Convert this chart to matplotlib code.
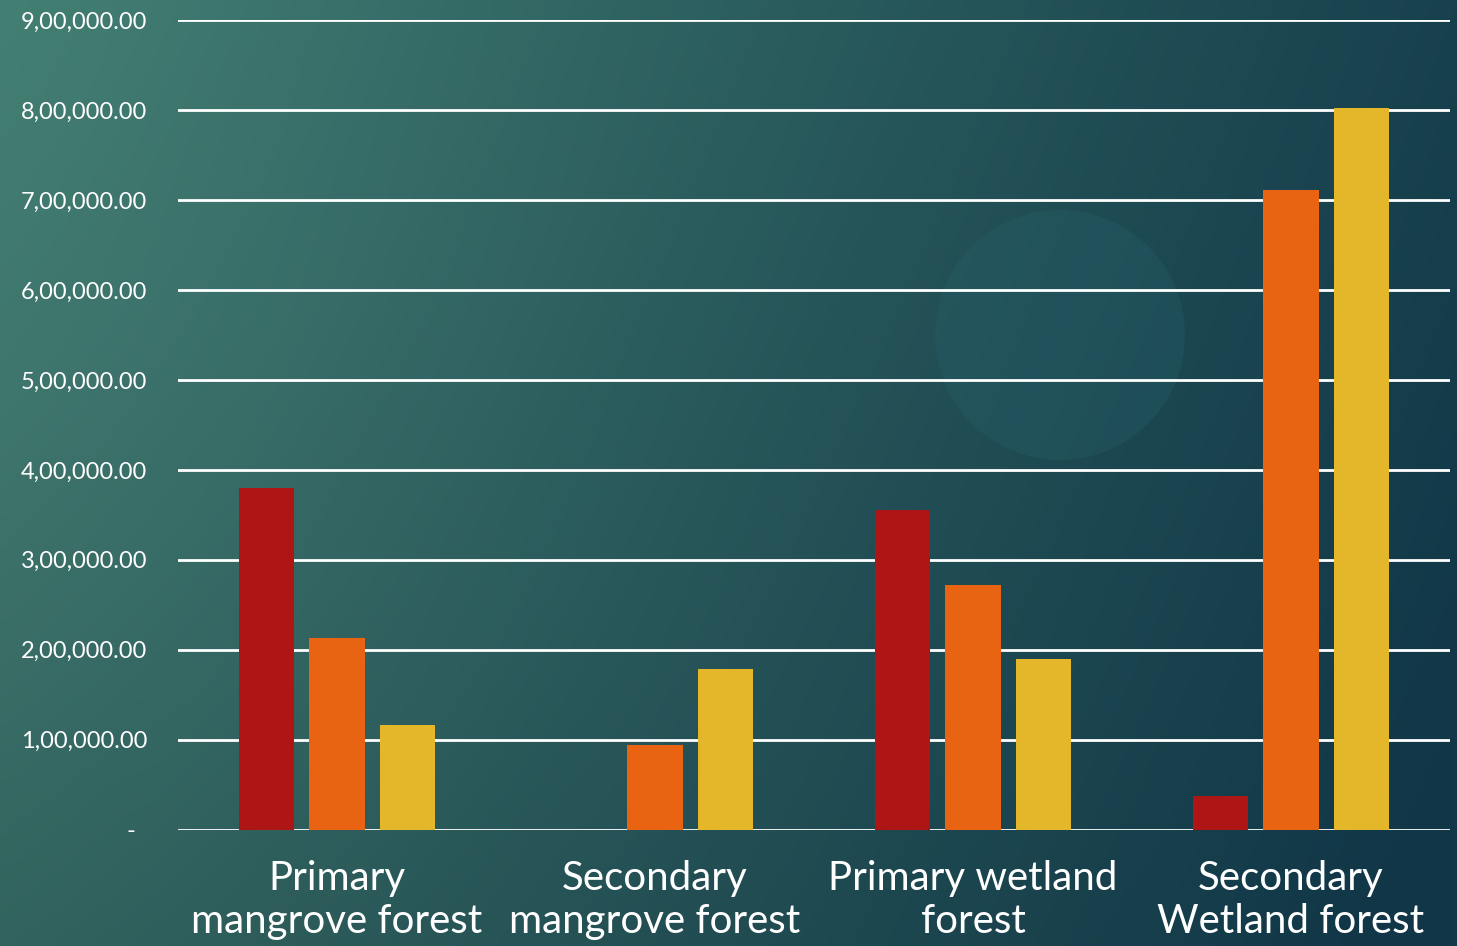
import matplotlib.pyplot as plt
import numpy as np
from matplotlib.patches import Ellipse
from matplotlib.ticker import FuncFormatter

categories = ['Primary\nmangrove forest', 'Secondary\nmangrove forest',
              'Primary wetland\nforest', 'Secondary\nWetland forest']
series_a = [380000, 0, 355000, 37000]       # red
series_b = [213000, 93500, 271500, 711500]  # orange
series_c = [116000, 179000, 190000, 802500] # yellow
colors = ['#ae1515', '#e86412', '#e4b62a']

def indian(v, pos):
    if v == 0:
        return '-  '
    s = str(int(round(v)))
    head, tail = s[:-3], s[-3:]
    parts = []
    while len(head) > 2:
        parts.insert(0, head[-2:])
        head = head[:-2]
    if head:
        parts.insert(0, head)
    return ','.join(parts + [tail]) + '.00'

W, H = 1457, 946
fig = plt.figure(figsize=(W / 100, H / 100), dpi=100)

# background gradient
yy, xx = np.mgrid[0:1:200j, 0:1:300j]
left = np.array([62, 122, 110]) / 255
right = np.array([17, 55, 72]) / 255
t = np.clip(xx * 0.85 + yy * 0.2, 0, 1)[..., None]
img = left * (1 - t) + right * t
glow = np.exp(-((xx - 0.05) ** 2 / 0.15 + (yy - 0.45) ** 2 / 0.5))[..., None]
img = img + glow * 0.03
img = img * (1 - 0.12 * yy[..., None] * (1 - xx[..., None]))
bg = fig.add_axes([0, 0, 1, 1])
bg.imshow(np.clip(img, 0, 1), aspect='auto', extent=[0, 1, 0, 1], interpolation='bicubic')
bg.add_patch(Ellipse((1060 / W, 1 - 335 / H), 250 / W, 250 / H, transform=bg.transAxes,
                     color='#2a6670', alpha=0.25, lw=0))
bg.set_xlim(0, 1)
bg.set_ylim(0, 1)
bg.axis('off')

ax = fig.add_axes([178 / W, 116.5 / H, 1272 / W, 809 / H])
ax.patch.set_alpha(0)
x = np.arange(len(categories))
step = 0.2215
bw = 0.173
for i, (vals, c) in enumerate(zip([series_a, series_b, series_c], colors)):
    ax.bar(x + (i - 1) * step, vals, width=bw, color=c, zorder=3)

ax.set_xlim(-0.5, 3.5)
ax.set_ylim(0, 900000)
ax.set_yticks(np.arange(0, 900001, 100000))
ax.yaxis.set_major_formatter(FuncFormatter(indian))
ax.grid(axis='y', color='white', lw=2, zorder=1)
for sp in ax.spines.values():
    sp.set_visible(False)
ax.tick_params(axis='y', length=0, pad=22, labelcolor='white', labelsize=17)
ax.set_xticks(x)
ax.set_xticklabels(categories, color='white', fontsize=29, linespacing=1.19)
ax.tick_params(axis='x', length=0, pad=22)
for lbl in ax.get_xticklabels() + ax.get_yticklabels():
    lbl.set_fontfamily('Lato')

fig.savefig('out.png', dpi=100)
